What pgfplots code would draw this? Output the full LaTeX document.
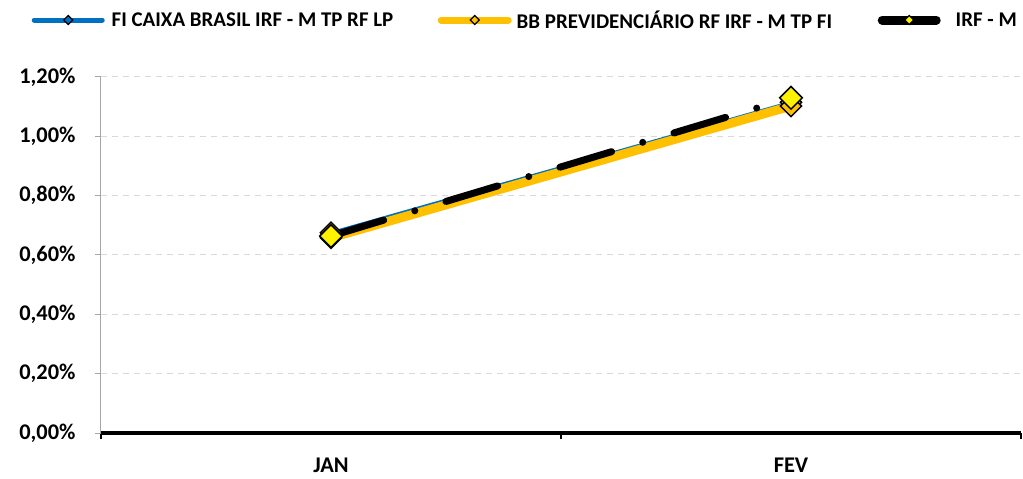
\documentclass[border=0pt]{standalone}
\usepackage{pgfplots}
\pgfplotsset{compat=1.18}
\usepackage{fontspec}
\setmainfont{Carlito}
\definecolor{cblue}{RGB}{0,112,192}
\definecolor{cyel}{RGB}{255,192,0}
\definecolor{cgrid}{RGB}{217,217,217}
\definecolor{caxis}{RGB}{166,166,166}
\begin{document}
\begin{tikzpicture}
\path[use as bounding box] (-101bp,-46bp) rectangle (922bp,433bp);
\begin{axis}[
  at={(0,0)}, anchor=south west,
  scale only axis, width=920bp, height=356bp,
  xmin=-0.5, xmax=1.5, ymin=0, ymax=1.2,
  xtick={-0.5,0.5,1.5}, xticklabels={},
  major x tick style={draw=black, line width=2bp},
  extra x ticks={0,1}, extra x tick labels={JAN,FEV},
  extra x tick style={major tick length=0pt, grid=none, major x tick style={draw=none}},
  ytick={0,0.2,0.4,0.6,0.8,1.0,1.2},
  yticklabel={\pgfmathprintnumber[fixed,fixed zerofill,precision=2,use comma]{\tick}\%},
  /pgf/number format/assume math mode=true,
  ymajorgrids, grid style={cgrid, line width=1bp, dash pattern=on 6bp off 5bp},
  major y tick style={caxis, line width=1bp}, major tick length=6bp, tick align=outside,
  axis x line*=bottom, axis y line*=left,
  x axis line style={black, line width=4bp, -},
  y axis line style={caxis, line width=1bp, -},
  tick label style={font=\fontsize{22.5}{26}\selectfont\bfseries},
  xticklabel style={inner sep=0pt, yshift=-25bp},
  yticklabel style={xshift=-16bp},
  clip=false,
  legend columns=3,
  legend style={draw=none, fill=none, inner sep=0pt, at={(-0.0755,1.16)}, anchor=west,
     font=\fontsize{21}{25}\selectfont\bfseries, cells={anchor=west}, nodes={inner sep=0pt},
     column sep=0pt,
     /tikz/every even column/.style={column sep=0pt},
     /tikz/every odd column/.style={column sep=0pt}},
]
\addplot[cblue, line width=3bp, mark=square*, mark size=7.5bp, mark options={rotate=45, fill=cyel, draw=black, line width=1.5bp},
  legend image code/.code={\path[draw=none, fill=none] (0bp,-0.5bp) rectangle (80bp,0.5bp);
    \draw[cblue, line width=5bp, line cap=round, solid] (2.5bp,0bp) -- (70.5bp,0bp);
    \draw[black, fill=cblue, line width=1.2bp, solid] (36.5bp,-4.5bp) -- (41bp,0bp) -- (36.5bp,4.5bp) -- (32bp,0bp) -- cycle;}]
  coordinates {(0,0.675) (1,1.115)};
\addlegendentry{\makebox[326bp][l]{FI CAIXA BRASIL IRF - M TP RF LP}}
\addplot[cyel, line width=9bp, mark=square*, mark size=7.5bp, mark options={rotate=45, fill=cyel, draw=black, line width=1.5bp},
  legend image code/.code={\path[draw=none, fill=none] (0bp,-0.5bp) rectangle (79bp,0.5bp);
    \draw[cyel, line width=7bp, line cap=round, solid] (3.5bp,0bp) -- (70.5bp,0bp);
    \draw[black, fill=cyel, line width=1.2bp, solid] (37bp,-4.5bp) -- (41.5bp,0bp) -- (37bp,4.5bp) -- (32.5bp,0bp) -- cycle;}]
  coordinates {(0,0.658) (1,1.102)};
\addlegendentry{\makebox[361bp][l]{BB PREVIDENCIÁRIO RF IRF - M TP FI}}
\addplot[black, line width=7bp, line cap=round, dash pattern=on 54bp off 32.5bp on 0bp off 32.5bp, dash phase=-1bp,
  mark=square*, mark size=8bp, mark options={solid, rotate=45, fill=yellow, draw=black, line width=1.5bp},
  legend image code/.code={\path[draw=none, fill=none] (0bp,-0.5bp) rectangle (78bp,0.5bp);
    \draw[black, line width=9bp, line cap=round, solid] (4.5bp,0bp) -- (58.5bp,0bp);
    \draw[black, fill=yellow, line width=1.2bp, solid] (31.5bp,-4.5bp) -- (36bp,0bp) -- (31.5bp,4.5bp) -- (27bp,0bp) -- cycle;}]
  coordinates {(0,0.664) (1,1.130)};
\addlegendentry{IRF - M}
\end{axis}
\end{tikzpicture}
\end{document}
